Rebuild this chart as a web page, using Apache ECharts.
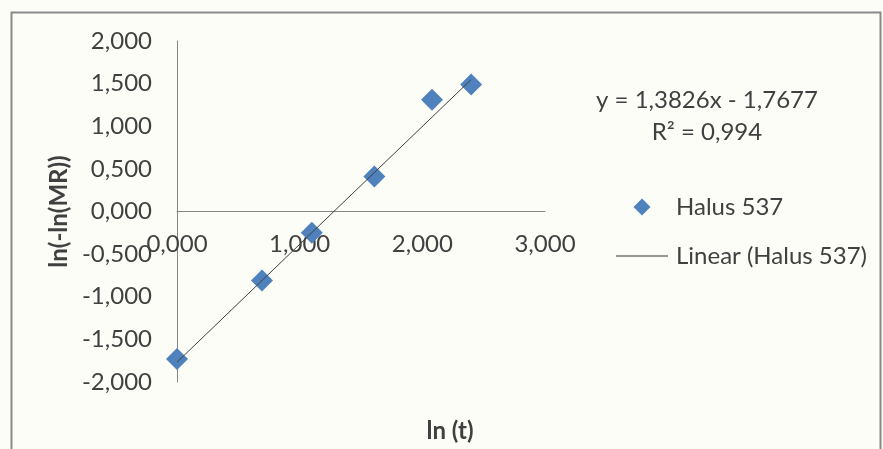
<!DOCTYPE html>
<html>
<head>
<meta charset="utf-8">
<script src="https://cdn.jsdelivr.net/npm/echarts@6/dist/echarts.min.js"></script>
<style>
html,body{margin:0;padding:0;background:#fdfdf8;}
#c{width:883px;height:449px;}
</style>
</head>
<body>
<div id="c"></div>
<script>
const seriesName = 'Halus 537';
const trendName = 'Linear (Halus 537)';
const lnT = [0.000, 0.693, 1.099, 1.609, 2.079, 2.398];
const lnLnMR = [-1.73, -0.81, -0.25, 0.41, 1.31, 1.49];
const slope = 1.3826;
const intercept = -1.7677;
const equationText = 'y = 1,3826x - 1,7677';
const r2Text = 'R² = 0,994';
const xTicks = [0, 1, 2, 3];
const yTicks = [-2, -1.5, -1, -0.5, 0, 0.5, 1, 1.5, 2];

const fmt = v => v.toFixed(3).replace('.', ',');
const xMin = Math.min(...lnT), xMax = Math.max(...lnT);
const trend = [[xMin, slope * xMin + intercept], [xMax, slope * xMax + intercept]];
const FONT = 'Lato';
const FS = 24;
const TXT = '#404040';
const BLUE = '#4f81bd';

const GRID = { left: 177, right: 338, top: 41, bottom: 67 };
const gridH = 449 - GRID.top - GRID.bottom;
const yMin = yTicks[0], yMax = yTicks[yTicks.length - 1];
// move the x axis (line + labels + name) up to y = 0, as Excel does
const xAxisOffset = -((0 - yMin) / (yMax - yMin)) * gridH;

const chart = echarts.init(document.getElementById('c'));
chart.setOption({
  backgroundColor: '#fdfdf8',
  animation: false,
  textStyle: { fontFamily: FONT },
  grid: Object.assign({ outerBoundsMode: 'none', containLabel: false }, GRID),
  xAxis: {
    type: 'value', min: xTicks[0], max: xTicks[xTicks.length - 1], interval: 1,
    position: 'bottom', offset: xAxisOffset,
    axisLine: { onZero: false, lineStyle: { color: '#868686', width: 1 } },
    axisTick: { show: false },
    splitLine: { show: false },
    axisLabel: { formatter: fmt, color: TXT, fontSize: FS, margin: 21, fontFamily: FONT, hideOverlap: false },
    name: 'ln (t)', nameLocation: 'middle', nameGap: 208,
    nameTextStyle: { fontWeight: 'bold', fontSize: FS, color: TXT, fontFamily: FONT, padding: [0, 0, 0, 178] }
  },
  yAxis: {
    type: 'value', min: yMin, max: yMax, interval: 0.5,
    axisLine: { show: true, onZero: true, lineStyle: { color: '#868686', width: 1 } },
    axisTick: { show: false },
    splitLine: { show: false },
    axisLabel: { formatter: fmt, color: TXT, fontSize: FS, margin: 25, fontFamily: FONT, hideOverlap: false },
    name: 'ln(-ln(MR))', nameLocation: 'middle', nameGap: 106, nameRotate: 90,
    nameTextStyle: { fontWeight: 'bold', fontSize: FS, color: TXT, fontFamily: FONT }
  },
  legend: {
    orient: 'vertical', left: 611, top: 190,
    itemWidth: 52, itemHeight: 17, itemGap: 25,
    textStyle: { fontSize: FS, color: TXT, fontFamily: FONT, padding: [0, 0, 0, 3] },
    data: [
      { name: seriesName, icon: 'path://M0,0M52,17M26,0L34.5,8.5L26,17L17.5,8.5Z', itemStyle: { color: BLUE } },
      { name: trendName, icon: 'path://M0,0M52,17M0,8L52,8L52,9L0,9Z', itemStyle: { color: '#303030' } }
    ]
  },
  series: [
    {
      name: trendName, type: 'line', data: trend, symbol: 'none',
      itemStyle: { color: '#303030' },
      lineStyle: { color: '#404040', width: 1 }, z: 3
    },
    {
      name: seriesName, type: 'scatter', data: lnT.map((x, i) => [x, lnLnMR[i]]),
      symbol: 'diamond', symbolSize: 22,
      itemStyle: { color: BLUE, opacity: 1 }, z: 2
    }
  ],
  graphic: [
    { type: 'rect', left: 9, top: 10, shape: { width: 869, height: 460 },
      style: { fill: 'none', stroke: '#8a8a8a', lineWidth: 2 }, silent: true },
    { type: 'text', x: 707, y: 100, style: { text: equationText, fontSize: FS, fill: TXT, fontFamily: FONT, align: 'center', verticalAlign: 'middle' } },
    { type: 'text', x: 707, y: 132, style: { text: r2Text, fontSize: FS, fill: TXT, fontFamily: FONT, align: 'center', verticalAlign: 'middle' } }
  ]
});
</script>
</body>
</html>
